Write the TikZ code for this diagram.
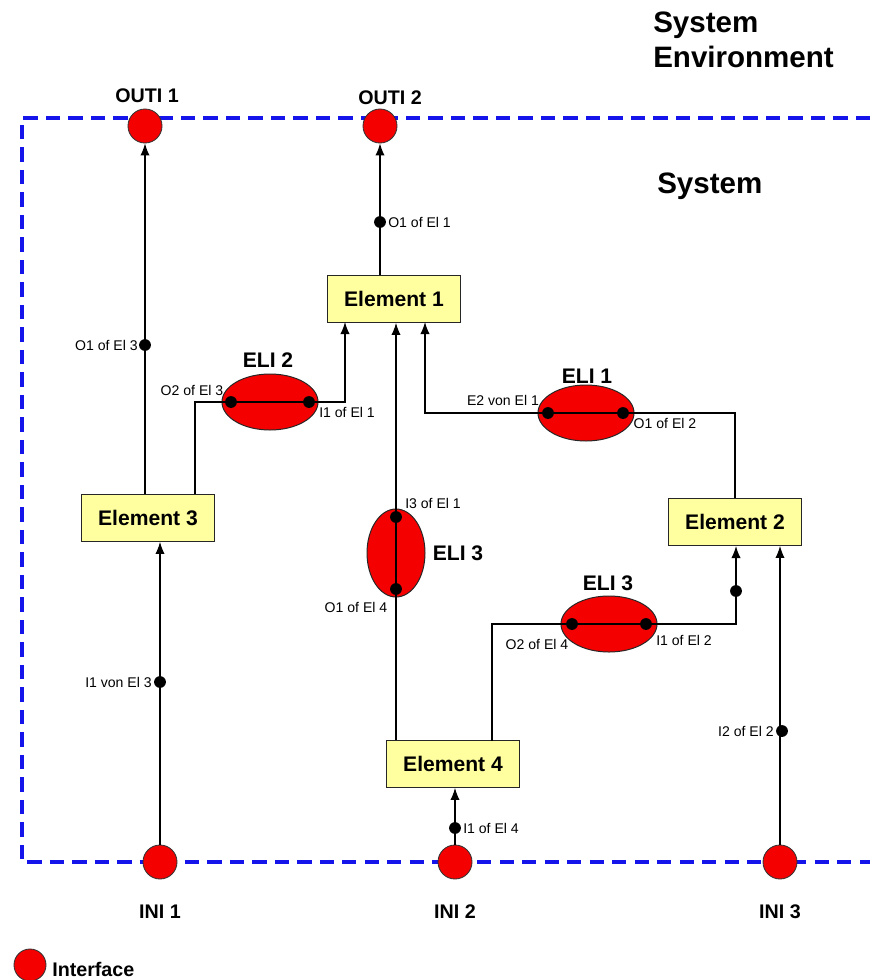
\documentclass[tikz,border=0pt]{standalone}
\usepackage{fontspec}
\setmainfont{Liberation Sans}
\usetikzlibrary{arrows.meta}
\usetikzlibrary{positioning}
\usetikzlibrary{shapes.geometric}

\definecolor{elfill}{RGB}{255,255,160}
\definecolor{ifred}{RGB}{245,0,0}
\definecolor{envblue}{RGB}{20,20,235}

\tikzset{
  frame/.style={envblue,line width=2.2pt,dash pattern=on 10pt off 6pt},
  elem/.style={rectangle,draw=black!85,fill=elfill,line width=0.7pt,minimum width=3.33cm,minimum height=1.17cm,inner sep=0pt,font=\bfseries\fontsize{15}{17}\selectfont},
  eli/.style={ellipse,draw=black!85,fill=ifred,line width=0.7pt,minimum width=2.4cm,minimum height=1.4cm,inner sep=0pt},
  iface/.style={circle,draw=black!80,fill=ifred,line width=0.6pt,minimum size=0.85cm,inner sep=0pt},
  conn/.style={black,line width=0.8pt},
  flow/.style={conn,-{Latex[length=3mm,width=2.3mm]}},
  lbl/.style={font=\fontsize{10}{12}\selectfont,inner sep=0pt},
  eliname/.style={font=\bfseries\fontsize{15}{17}\selectfont,inner sep=0pt},
  ifname/.style={font=\bfseries\fontsize{14}{16}\selectfont,inner sep=0pt},
  title/.style={font=\bfseries\fontsize{21}{25}\selectfont,inner sep=0pt}
}

\begin{document}
\begin{tikzpicture}[x=0.025cm,y=-0.025cm]
\useasboundingbox (0,0) rectangle (870,980);

\draw[frame] (870,118) -- (22,118) -- (22,862) -- (870,862);

\node[title,align=left,anchor=west] (envname) at (653,40) {System\\Environment};
\node[title,anchor=west] (sysname) at (657,186) {System};

\node[elem] (el1) at (394,299) {Element 1};
\node[elem] (el3) at (148,518) {Element 3};
\node[elem] (el2) at (735,522) {Element 2};
\node[elem] (el4) at (453,764) {Element 4};

\node[eli] (eli2) at (270,402) {};
\node[eli] (eli1) at (586,413) {};
\node[eli,minimum width=1.45cm,minimum height=2.2cm] (eli3v) at (396,553) {};
\node[eli] (eli3h) at (609,624) {};

\node[iface] (outi1) at (145,126) {};
\node[iface] (outi2) at (380,126) {};
\node[iface] (ini1) at (160,862) {};
\node[iface] (ini2) at (455,862) {};
\node[iface] (ini3) at (780,862) {};

\coordinate (eli2a) at (231,402);
\coordinate (eli2b) at (309,402);
\coordinate (eli1a) at (548,413);
\coordinate (eli1b) at (623,413);
\coordinate (eli3va) at (396,517);
\coordinate (eli3vb) at (396,589);
\coordinate (eli3ha) at (572,624);
\coordinate (eli3hb) at (646,624);
\coordinate (o1el3) at (145,345);
\coordinate (o1el1) at (380,222);
\coordinate (i1el3) at (160,682);
\coordinate (i1el4) at (455,828);
\coordinate (i2el2) at (782,731);
\coordinate (i1el2) at (736,591);
\coordinate (el3o2) at (195,494);
\coordinate (el1i1) at (345,322);
\coordinate (el1e2) at (425,322);
\coordinate (el4o2) at (492,741);
\coordinate (el2i1) at (736,546);

\draw[flow] (el3.north -| outi1) -- (outi1);
\draw[conn] (el3o2) |- (eli2a);
\draw[conn] (eli2a) -- (eli2b);
\draw[flow] (eli2b) -| (el1i1);
\draw[flow] (el1.north -| outi2) -- (outi2);
\draw[flow] (el4.north -| eli3v) -- (el1.south -| eli3v);
\draw[conn] (el2.north) |- (eli1b);
\draw[conn] (eli1b) -- (eli1a);
\draw[flow] (eli1a) -| (el1e2);
\draw[conn] (el4o2) |- (eli3ha);
\draw[conn] (eli3ha) -- (eli3hb);
\draw[flow] (eli3hb) -| (el2i1);
\draw[flow] (ini1) -- (ini1 |- el3.south);
\draw[flow] (ini2) -- (ini2 |- el4.south);
\draw[flow] (ini3) -- (ini3 |- el2.south);

\foreach \d in {eli2a,eli2b,eli1a,eli1b,eli3va,eli3vb,eli3ha,eli3hb,o1el3,o1el1,i1el3,i1el4,i2el2,i1el2}
  \fill (\d) circle (4.2pt);

\node[ifname] (outi1name) at (147,96) {OUTI 1};
\node[ifname] (outi2name) at (390,98) {OUTI 2};
\node[ifname] (ini1name) at (160,912) {INI 1};
\node[ifname] (ini2name) at (455,912) {INI 2};
\node[ifname] (ini3name) at (780,912) {INI 3};

\node[eliname] (eli2name) at (268,360) {ELI 2};
\node[eliname] (eli1name) at (587,376) {ELI 1};
\node[eliname] (eli3vname) at (458,553) {ELI 3};
\node[eliname] (eli3hname) at (608,583) {ELI 3};

\node[lbl,anchor=east] at (138,345) {O1 of El 3};
\node[lbl,anchor=west] at (388,222) {O1 of El 1};
\node[lbl] at (192,390) {O2 of El 3};
\node[lbl] at (347,412) {I1 of El 1};
\node[lbl] at (503,400) {E2 von El 1};
\node[lbl] at (665,423) {O1 of El 2};
\node[lbl] at (433,503) {I3 of El 1};
\node[lbl] at (356,607) {O1 of El 4};
\node[lbl] at (537,644) {O2 of El 4};
\node[lbl] at (684,640) {I1 of El 2};
\node[lbl,anchor=east] at (152,682) {I1 von El 3};
\node[lbl,anchor=east] at (774,731) {I2 of El 2};
\node[lbl,anchor=west] at (463,828) {I1 of El 4};

\node[iface,minimum size=0.8cm] (legdot) at (30,965) {};
\node[ifname,anchor=west] (legname) at (52,969) {Interface};
\end{tikzpicture}
\end{document}
